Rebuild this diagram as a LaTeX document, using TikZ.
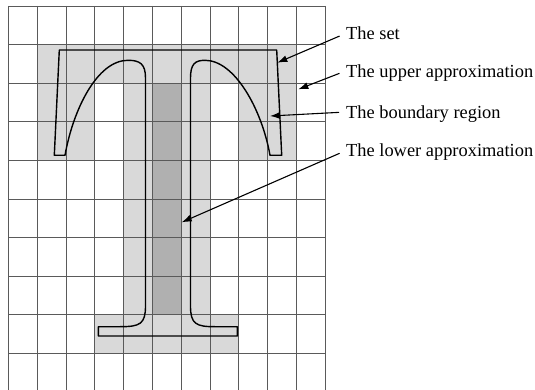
\documentclass[tikz,border=0pt]{standalone}
\usepackage{fontspec}
\setmainfont{Liberation Serif}
\usetikzlibrary{arrows.meta}
\definecolor{lightg}{RGB}{217,217,217}
\definecolor{darkg}{RGB}{176,176,176}
\definecolor{gridc}{RGB}{90,90,90}
\begin{document}
\begin{tikzpicture}[x=1pt,y=-1pt,
  lbl/.style={anchor=west,inner sep=0pt,text height=13pt,text depth=0pt,font=\fontsize{18.4}{20}\selectfont},
  ptr/.style={draw=black,line width=1.1pt,shorten <=7pt,-{Latex[length=10pt,width=7pt]}},
  outline/.style={draw=black,line width=1.4pt,line join=round},
  gridline/.style={draw=gridc,line width=0.8pt}]
\useasboundingbox (0,0) rectangle (535,390);
\begin{scope}[shift={(8.3,6)},x=28.8pt,y=-38.6pt]
  \fill[lightg] (1,1) rectangle (10,2);
  \fill[lightg] (1,2) rectangle (3,4);
  \fill[lightg] (8,2) rectangle (10,4);
  \fill[lightg] (4,2) rectangle (7,8);
  \fill[lightg] (3,8) rectangle (8,9);
  \fill[darkg] (5,2) rectangle (6,8);
  \foreach \i in {0,...,11} \draw[gridline] (\i,0) -- (\i,10.3);
  \foreach \j in {0,...,9} \draw[gridline] (0,\j) -- (11,\j);
\end{scope}
% the set
\draw[outline] (59.3,50) -- (276.7,50) -- (281.7,155.3) -- (270,155.3)
  .. controls (262,110) and (235,60.3) .. (205,60.3)
  .. controls (195,60.3) and (190.5,64) .. (190.5,78)
  -- (190.5,306)
  .. controls (190.5,324) and (196,326.7) .. (215,326.7)
  -- (237.3,326.7) -- (237.3,336) -- (98.3,336) -- (98.3,326.7) -- (120,326.7)
  .. controls (140,326.7) and (145.5,324) .. (145.5,306)
  -- (145.5,78)
  .. controls (145.5,64) and (140,60.3) .. (128,60.3)
  .. controls (97,60.3) and (73,110) .. (65,155.3)
  -- (54.3,155.3) -- cycle;
% labels
\node[lbl] (t1) at (346,33.3) {The set};
\node[lbl] (t2) at (346,70.8) {The upper approximation};
\node[lbl] (t3) at (346,112) {The boundary region};
\node[lbl] (t4) at (346,150.5) {The lower approximation};
\coordinate (a1) at (277.3,62.7);
\coordinate (a2) at (298.3,89.3);
\coordinate (a3) at (270,116);
\coordinate (a4) at (181.7,222.3);
\draw[ptr] (t1.west) -- (a1);
\draw[ptr] (t2.west) -- (a2);
\draw[ptr] (t3.west) -- (a3);
\draw[ptr] (t4.west) -- (a4);
\end{tikzpicture}
\end{document}
